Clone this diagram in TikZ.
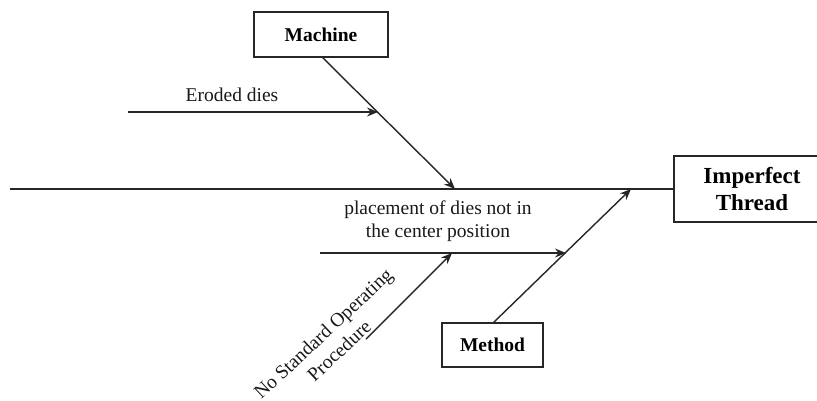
\documentclass[tikz,border=0pt]{standalone}
\usepackage{fontspec}
\setmainfont{Liberation Serif}
\usetikzlibrary{arrows.meta}
\begin{document}
\begin{tikzpicture}[x=1pt,y=-1pt,
  causebox/.style={draw=black!85,line width=1.6pt,fill=white,inner sep=0pt,font=\fontsize{19.5}{23}\selectfont\bfseries},
  bone/.style={line width=1.4pt,draw=black!85},
  arr/.style={bone,-{Stealth[length=11pt,width=9pt]}},
  lbl/.style={font=\fontsize{19.5}{23.5}\selectfont,text=black!90,align=center,inner sep=0pt}]
\useasboundingbox (0,0) rectangle (817,400);
\clip (0,0) rectangle (817,400);
% boxes
\node[causebox,minimum width=134pt,minimum height=45pt] (machine) at (321,34.5) {Machine};
\node[causebox,minimum width=101pt,minimum height=44pt] (method) at (492.5,345) {Method};
\node[causebox,minimum width=156pt,minimum height=66pt,align=center,font=\fontsize{23}{27}\selectfont\bfseries] (effect) at (752,189) {Imperfect\\Thread};
% coordinates
\coordinate (spineL) at (10,189);
\coordinate (mtop) at (322,57);
\coordinate (mhit) at (455,189);
\coordinate (erodL) at (128,112);
\coordinate (erodR) at (378,112);
\coordinate (methtop) at (493,323);
\coordinate (methhit) at (631,189);
\coordinate (placeL) at (320,253);
\coordinate (placeR) at (566,253);
\coordinate (sopL) at (366,339);
\coordinate (sopR) at (452,253);
% spine
\draw[line width=1.6pt,draw=black!85] (spineL) -- (effect.west);
% bones
\draw[arr] (mtop) -- (mhit);
\draw[arr] (erodL) -- (erodR);
\draw[arr] (methtop) -- (methhit);
\draw[arr] (placeL) -- (placeR);
\draw[arr] (sopL) -- (sopR);
% labels
\node[lbl] (erodlbl) at (232,95) {Eroded dies};
\node[lbl] (placelbl) at (438,221) {placement of dies not in\\the center position};
\node[lbl,rotate=43] (soplbl) at (331,342) {No Standard Operating\\Procedure};
\end{tikzpicture}
\end{document}
